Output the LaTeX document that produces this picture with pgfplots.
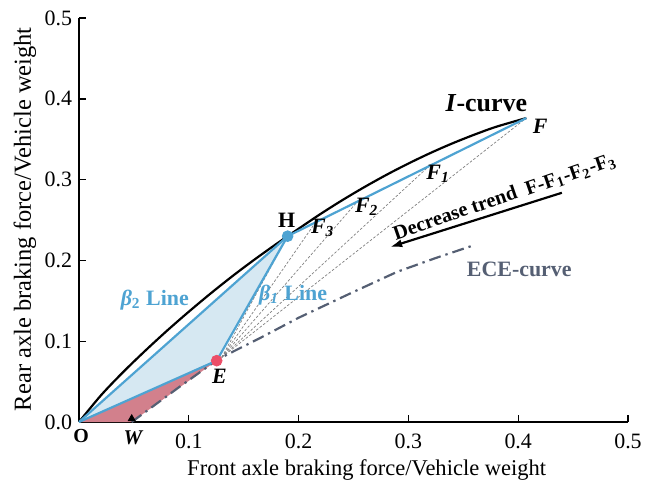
\documentclass[border=0pt]{standalone}
\usepackage{pgfplots}
\pgfplotsset{compat=1.18}
\usetikzlibrary{arrows.meta}
\usepackage{fontspec}
\setmainfont{Liberation Serif}
\definecolor{bl}{RGB}{78,163,210}
\definecolor{lbl}{RGB}{214,232,242}
\definecolor{pk}{RGB}{210,128,140}
\definecolor{rd}{RGB}{236,78,104}
\definecolor{sl}{RGB}{85,95,115}
\begin{document}
\begin{tikzpicture}
\path[use as bounding box] (-39.5bp,-33bp) rectangle (283bp,211bp);
\begin{axis}[
 scale only axis, width=274.5bp, height=202bp,
 xmin=0,xmax=0.5,ymin=0,ymax=0.5,
 axis lines=left, axis line style={-, line width=0.7pt},
 tick align=inside, major tick length=3.5bp, tick style={line width=0.7pt, black},
 xtick={0.1,0.2,0.3,0.4,0.5}, ytick={0,0.1,0.2,0.3,0.4,0.5},
 xticklabel style={yshift=-2.5bp},
 yticklabel style={/pgf/number format/.cd, fixed, fixed zerofill, precision=1},
 xticklabel style={/pgf/number format/.cd, fixed, fixed zerofill, precision=1},
 /pgf/number format/assume math mode=true,
 tick label style={font=\fontsize{11}{13}\selectfont},
 xlabel={Front axle braking force/Vehicle weight},
 ylabel={Rear axle braking force/Vehicle weight},
 xlabel style={font=\fontsize{11.3}{13}\selectfont, at={([yshift=-24bp]rel axis cs:0.524,0)}, anchor=center},
 ylabel style={font=\fontsize{12.3}{14}\selectfont, at={([xshift=-27bp]rel axis cs:0,0.502)}, anchor=center},
 clip=false,
]
% fills
\addplot[fill=lbl, draw=none] coordinates {(0,0) (0.190,0.230) (0.1254,0.0759) (0,0)};
\addplot[fill=pk, draw=none] coordinates {(0,0) (0.1254,0.0759) (0.048,0) (0,0)};
% fan lines
\addplot[gray, dash pattern=on 1.3pt off 0.9pt, line width=0.35pt] coordinates {(0.13,0.08) (0.4074,0.3762)};
\addplot[gray, dash pattern=on 1.3pt off 0.9pt, line width=0.35pt] coordinates {(0.13,0.08) (0.318,0.3156)};
\addplot[gray, dash pattern=on 1.3pt off 0.9pt, line width=0.35pt] coordinates {(0.13,0.08) (0.254,0.2735)};
\addplot[gray, dash pattern=on 1.3pt off 0.9pt, line width=0.35pt] coordinates {(0.13,0.08) (0.215,0.2463)};
\addplot[gray, dash pattern=on 1.3pt off 0.9pt, line width=0.35pt] coordinates {(0.13,0.08) (0.190,0.230)};
% ECE curve
\addplot[sl, line width=1.1pt, dash pattern=on 6pt off 2.5pt on 1.2pt off 2.5pt] coordinates {
(0.048,0) (0.09,0.042) (0.127,0.078) (0.165,0.104) (0.2,0.129) (0.25,0.161) (0.29,0.186) (0.325,0.203) (0.358,0.218)};
% I-curve
\addplot[black, line width=1.1pt, smooth] coordinates {
(0,0) (0.02,0.033) (0.04,0.0615) (0.06,0.0878) (0.08,0.1128) (0.10,0.1365) (0.12,0.1592) (0.14,0.1808)
(0.16,0.2012) (0.18,0.2206) (0.20,0.2392) (0.22,0.2575) (0.24,0.2747) (0.26,0.2908) (0.28,0.3059)
(0.30,0.3199) (0.32,0.3329) (0.34,0.3448) (0.36,0.3556) (0.38,0.3654) (0.4074,0.3762)};
% blue lines
\addplot[bl, line width=1.1pt] coordinates {(0,0) (0.190,0.230)};
\addplot[bl, line width=1.1pt] coordinates {(0,0) (0.1254,0.0759) (0.190,0.230) (0.4074,0.3762)};
% points
\addplot[only marks, mark=*, mark size=2.7bp, rd, mark options={draw=rd, fill=rd}] coordinates {(0.1254,0.0759)};
\addplot[only marks, mark=*, mark size=2.7bp, bl, mark options={draw=bl, fill=bl}] coordinates {(0.190,0.230)};
\addplot[only marks, mark=triangle*, mark size=2bp, black] coordinates {(0.048,0.004)};
% labels
\node[font=\fontsize{13}{15}\selectfont\bfseries] at (axis cs:0.371,0.395) {\textit{I}-curve};
\node[font=\fontsize{11}{13}\selectfont\bfseries\itshape] at (axis cs:0.420,0.366) {F};
\node[font=\fontsize{11}{13}\selectfont\bfseries\itshape] at (axis cs:0.327,0.307) {F\textsubscript{1}};
\node[font=\fontsize{11}{13}\selectfont\bfseries\itshape] at (axis cs:0.262,0.266) {F\textsubscript{2}};
\node[font=\fontsize{11}{13}\selectfont\bfseries\itshape] at (axis cs:0.222,0.240) {F\textsubscript{3}};
\node[font=\fontsize{11}{13}\selectfont\bfseries] at (axis cs:0.189,0.250) {H};
\node[font=\fontsize{11}{13}\selectfont\bfseries\itshape] at (axis cs:0.128,0.056) {E};
\node[font=\fontsize{10}{12}\selectfont\bfseries] at (axis cs:0.002,-0.017) {O};
\node[font=\fontsize{10.5}{12}\selectfont\bfseries\itshape] at (axis cs:0.049,-0.019) {W};
\node[font=\fontsize{11}{13}\selectfont\bfseries, bl] at (axis cs:0.069,0.151) {\textit{β}\textsubscript{2} Line};
\node[font=\fontsize{11}{13}\selectfont\bfseries, bl] at (axis cs:0.195,0.157) {\textit{β}\textsubscript{\textit{1}} Line};
\node[font=\fontsize{11}{13}\selectfont\bfseries, sl] at (axis cs:0.401,0.189) {ECE-curve};
\node[font=\fontsize{10.2}{12}\selectfont\bfseries, rotate=19, anchor=base, inner sep=0pt] at (axis cs:0.3444,0.2512) {Decrease trend};
\node[font=\fontsize{10.2}{12}\selectfont\bfseries, rotate=19, anchor=base, inner sep=0pt] at (axis cs:0.4495,0.2995) {F-F\textsubscript{1}-F\textsubscript{2}-F\textsubscript{3}};
\draw[-{Latex[length=6bp,width=4bp]}, line width=1.1pt] (axis cs:0.4398,0.2837) -- (axis cs:0.2834,0.2166);
\end{axis}
\end{tikzpicture}
\end{document}
